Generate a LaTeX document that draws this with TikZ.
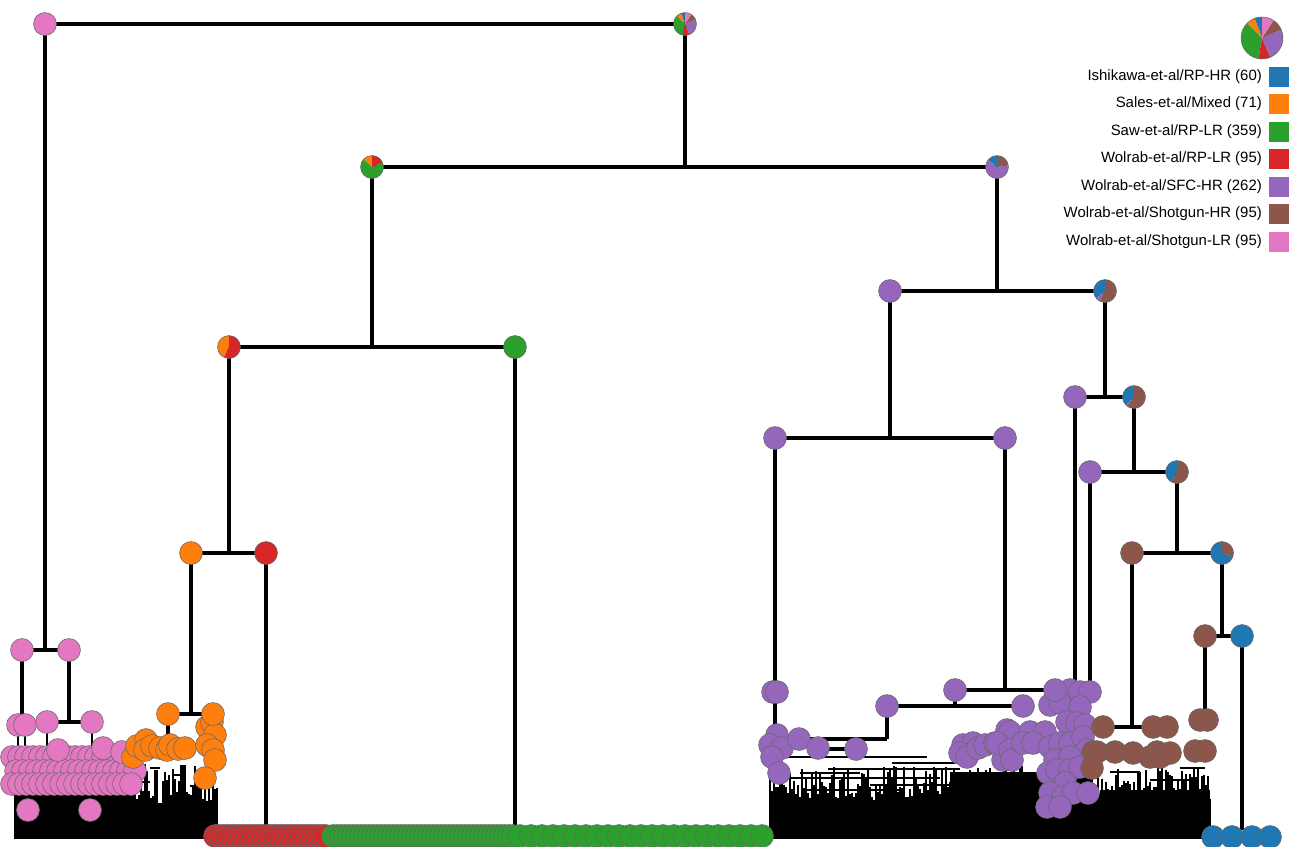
\documentclass[tikz,border=0pt]{standalone}
\usepackage{fontspec}
\setmainfont{Liberation Sans}
\usetikzlibrary{positioning}
\definecolor{tabblue}{HTML}{1F77B4}
\definecolor{taborange}{HTML}{FF7F0E}
\definecolor{tabgreen}{HTML}{2CA02C}
\definecolor{tabred}{HTML}{D62728}
\definecolor{tabpurple}{HTML}{9467BD}
\definecolor{tabbrown}{HTML}{8C564B}
\definecolor{tabpink}{HTML}{E377C2}
\pgfdeclarelayer{back}
\pgfsetlayers{back,main}
\newcommand{\pierad}{8.6pt}
% pie at a named coordinate: name, position, radius, total, colour/count list
\newcommand{\pienode}[5]{%
  \coordinate (#1) at (#2);
  \xdef\pieangle{90}%
  \foreach \c/\v in {#5}{%
    \pgfmathsetmacro{\pieend}{\pieangle+360*(\v/#4)}%
    \fill[\c] (#1) -- ++(\pieangle:#3) arc[start angle=\pieangle, end angle=\pieend, radius=#3] -- cycle;
    \global\let\pieangle\pieend
  }%
  \draw[black!60, line width=0.4pt] (#1) circle[radius=#3];
}

\begin{document}
\begin{tikzpicture}[x=0.75pt, y=-0.75pt,
    leaf/.style={circle, draw=black!60, line width=0.4pt, inner sep=0pt, minimum size=17.2pt},
    stem/.style={line width=2.6pt},
    twig/.style={line width=1.1pt},
    key/.style={inner sep=0pt, font=\fontsize{11.2pt}{13pt}\selectfont},
    swatch/.style={inner sep=0pt, minimum size=15pt}]
  \useasboundingbox (0,0) rectangle (1294,846);

  % dense lower parts of the tree
  \begin{pgfonlayer}{back}
    \pgfmathsetseed{42}
    \fill (15,788) rectangle (135,839);
    \fill (15,804) rectangle (218,839);
    \foreach \i in {0,...,101}{
      \pgfmathsetmacro{\xx}{15+2*\i}
      \pgfmathsetmacro{\yy}{804-40*rnd}
      \draw[twig] (\xx,839) -- (\xx,\yy);
    }
    \foreach \ya/\xa/\xb in {768/150/160, 775/172/186, 782/140/150, 786/190/200, 772/196/206}{
      \draw[twig] (\xa,\ya) -- (\xb,\ya);
    }
    \fill (770,800) rectangle (1210,839);
    \fill (950,772) rectangle (1090,810);
    \fill (1100,790) rectangle (1210,810);
    \foreach \i in {0,...,220}{
      \pgfmathsetmacro{\xx}{770+2*\i}
      \pgfmathsetmacro{\yy}{800-34*rnd}
      \draw[twig] (\xx,839) -- (\xx,\yy);
    }
    \foreach \ya/\xa/\xb in {757/783/927, 763/892/960, 769/828/960, 773/800/860,
                             778/790/940, 785/870/980, 790/805/900, 795/930/1000,
                             772/1110/1140, 780/1150/1190, 768/1180/1205}{
      \draw[twig] (\xa,\ya) -- (\xb,\ya);
    }
  \end{pgfonlayer}

  % leaves in the bottom row
  \foreach \x in {215,218,...,327}{
    \node[leaf, fill=tabred] (rd\x) at (\x,836) {};
  }
  \foreach \x in {333,337,...,513}{
    \node[leaf, fill=tabgreen] (gr\x) at (\x,836) {};
  }
  \foreach \x in {520,531,...,765}{
    \node[leaf, fill=tabgreen] (gr\x) at (\x,836) {};
  }
  \foreach \x in {1213,1232,1252,1270}{
    \node[leaf, fill=tabblue] (bl\x) at (\x,837) {};
  }

  % pink and orange clusters
  \foreach \x in {12,19,...,131}{
    \node[leaf, fill=tabpink] (pka\x) at (\x,757) {};
  }
  \foreach \x in {16,23,...,135}{
    \node[leaf, fill=tabpink] (pkb\x) at (\x,771) {};
  }
  \foreach \x in {12,19,...,131}{
    \node[leaf, fill=tabpink] (pkc\x) at (\x,784) {};
  }
  \foreach \x/\y in {28/810, 90/810, 58/750, 103/748, 122/752}{
    \node[leaf, fill=tabpink] (pkd\x) at (\x,\y) {};
  }
  \foreach \x/\y in {133/757, 137/746, 146/740, 145/750, 152/746, 160/748, 167/750, 170/745,
                     178/749, 185/748, 207/727, 212/722, 215/735, 207/745, 213/750, 215/760, 205/778}{
    \node[leaf, fill=taborange] (or\x-\y) at (\x,\y) {};
  }

  % purple and brown clusters
  \foreach \x/\y in {777/735, 770/745, 782/748, 772/757, 779/773, 799/739, 818/748, 856/749,
                     963/745, 973/743, 960/753, 967/757, 978/748, 985/745, 995/743, 1007/730,
                     1003/760, 1010/732, 997/743, 1010/750, 1012/760, 1030/732, 1045/732,
                     1023/743, 1033/743, 1070/690, 1080/692, 1090/692, 1050/705, 1060/703,
                     1080/707, 1067/722, 1077/723, 1085/725, 1050/747, 1060/743, 1070/743,
                     1083/737, 1087/750, 1055/760, 1070/757, 1048/773, 1057/770, 1070/770,
                     1080/767, 1065/783, 1050/793, 1063/797, 1073/793, 1088/793, 1047/807, 1060/807}{
    \node[leaf, fill=tabpurple] (pu\x-\y) at (\x,\y) {};
  }
  \foreach \x/\y in {1093/752, 1097/752, 1092/768, 1115/752, 1133/753, 1150/757, 1157/752,
                     1160/757, 1170/753, 1153/727, 1167/727, 1195/751, 1205/751}{
    \node[leaf, fill=tabbrown] (br\x-\y) at (\x,\y) {};
  }

  % tree nodes
  \node[leaf, fill=tabpink] (nP) at (45,24) {};
  \pienode{nA}{685,24}{\pierad}{1037}{tabblue/60, taborange/71, tabgreen/359, tabred/95, tabpurple/262, tabbrown/95, tabpink/95}
  \pienode{nB}{372,167}{\pierad}{525}{taborange/71, tabgreen/359, tabred/95}
  \pienode{nC}{997,167}{\pierad}{417}{tabblue/60, tabpurple/262, tabbrown/95}
  \pienode{nD}{229,347}{\pierad}{166}{taborange/71, tabred/95}
  \node[leaf, fill=tabgreen] (nE) at (515,347) {};
  \node[leaf, fill=taborange] (nF) at (191,553) {};
  \node[leaf, fill=tabred] (nG) at (266,553) {};
  \node[leaf, fill=tabpurple] (nH) at (890,291) {};
  \pienode{nI}{1105,291}{\pierad}{165}{tabblue/60, tabpurple/10, tabbrown/95}
  \node[leaf, fill=tabpurple] (nJ) at (775,438) {};
  \node[leaf, fill=tabpurple] (nK) at (1005,438) {};
  \node[leaf, fill=tabpurple] (nL) at (1075,397) {};
  \pienode{nM}{1134,397}{\pierad}{158}{tabblue/60, tabpurple/3, tabbrown/95}
  \node[leaf, fill=tabpurple] (nN) at (1090,472) {};
  \pienode{nO}{1177,472}{\pierad}{145}{tabblue/60, tabbrown/85}
  \node[leaf, fill=tabbrown] (nQ) at (1132,553) {};
  \pienode{nR}{1222,553}{\pierad}{87}{tabblue/60, tabbrown/27}
  \node[leaf, fill=tabbrown] (nS) at (1205,636) {};
  \node[leaf, fill=tabblue] (nT) at (1242,636) {};
  \node[leaf, fill=tabpink] (nU) at (22,650) {};
  \node[leaf, fill=tabpink] (nV) at (69,650) {};
  \node[leaf, fill=tabpink] (nU1) at (18,725) {};
  \node[leaf, fill=tabpink] (nU2) at (25,725) {};
  \node[leaf, fill=tabpink] (nV1) at (47,722) {};
  \node[leaf, fill=tabpink] (nV2) at (92,722) {};
  \node[leaf, fill=taborange] (nF1) at (168,714) {};
  \node[leaf, fill=taborange] (nF2) at (213,714) {};
  \node[leaf, fill=tabpurple] (nJ1) at (773,692) {};
  \node[leaf, fill=tabpurple] (nJ2) at (777,692) {};
  \node[leaf, fill=tabpurple] (nK1) at (955,690) {};
  \node[leaf, fill=tabpurple] (nK2) at (1055,690) {};
  \node[leaf, fill=tabpurple] (nK3) at (887,706) {};
  \node[leaf, fill=tabpurple] (nK4) at (1023,706) {};
  \node[leaf, fill=tabbrown] (nQ1) at (1103,727) {};
  \node[leaf, fill=tabbrown] (nS1) at (1200,720) {};
  \node[leaf, fill=tabbrown] (nS2) at (1207,720) {};
  \coordinate (gEnd) at (266,828);
  \coordinate (eEnd) at (515,828);
  \coordinate (jEnd) at (775,770);
  \coordinate (k3End) at (785,739);
  \coordinate (lEnd) at (1075,684);
  \coordinate (nEnd) at (1090,684);
  \coordinate (qEnd) at (1160,727);
  \coordinate (tEnd) at (1242,830);
  \coordinate (fEnd) at (168,735);

  % branches
  \begin{pgfonlayer}{back}
    \draw[stem] (nP.center) -- (nA);
    \draw[stem] (nA) -- (nA |- nB);
    \draw[stem] (nB) -- (nC);
    \draw[stem] (nB) -- (nB |- nD);
    \draw[stem] (nD) -- (nE.center);
    \draw[stem] (nD) -- (nD |- nF.center);
    \draw[stem] (nF.center) -- (nG.center);
    \draw[stem] (nG.center) -- (gEnd);
    \draw[stem] (nE.center) -- (eEnd);
    \draw[stem] (nF.center) -- (nF.center |- nF1.center);
    \draw[stem] (nF1.center) -- (nF2.center);
    \draw[stem] (nF1.center) -- (fEnd);
    \draw[stem] (nC) -- (nC |- nH.center);
    \draw[stem] (nH.center) -- (nI);
    \draw[stem] (nH.center) -- (nH.center |- nJ.center);
    \draw[stem] (nJ.center) -- (nK.center);
    \draw[stem] (nJ.center) -- (jEnd);
    \draw[stem] (nK.center) -- (nK.center |- nK1.center);
    \draw[stem] (nK1.center) -- (nK2.center);
    \draw[stem] (nK1.center) -- (nK1.center |- nK3.center);
    \draw[stem] (nK3.center) -- (nK4.center);
    \draw[stem] (nK3.center) -- (nK3.center |- k3End);
    \draw[stem] (nK3.center |- k3End) -- (k3End);
    \draw[stem] (818,749) -- (856,749);
    \draw[stem] (nI) -- (nI |- nL.center);
    \draw[stem] (nL.center) -- (nM);
    \draw[stem] (nL.center) -- (lEnd);
    \draw[stem] (nM) -- (nM |- nN.center);
    \draw[stem] (nN.center) -- (nO);
    \draw[stem] (nN.center) -- (nEnd);
    \draw[stem] (nO) -- (nO |- nQ.center);
    \draw[stem] (nQ.center) -- (nR);
    \draw[stem] (nQ.center) -- (nQ.center |- qEnd);
    \draw[stem] (nQ1.center) -- (qEnd);
    \draw[stem] (nR) -- (nR |- nS.center);
    \draw[stem] (nS.center) -- (nT.center);
    \draw[stem] (nS.center) -- (nS.center |- nS1.center);
    \draw[stem] (nS1.center) -- (nS2.center);
    \draw[stem] (nT.center) -- (tEnd);
    \draw[stem] (nP.center) -- (nP.center |- nU.center);
    \draw[stem] (nU.center) -- (nV.center);
    \draw[stem] (nU.center) -- (nU.center |- nU1.center);
    \draw[stem] (nU1.center) -- (nU2.center);
    \draw[stem] (nV.center) -- (nV.center |- nV1.center);
    \draw[stem] (nV1.center) -- (nV2.center);
    \draw[twig] (nU1.center) -- ++(0,30);
    \draw[twig] (nU2.center) -- ++(0,30);
    \draw[twig] (nV1.center) -- ++(0,30);
    \draw[twig] (nV2.center) -- ++(0,30);
  \end{pgfonlayer}

  % legend
  \pienode{keypie}{1262,38}{15.75pt}{1037}{tabblue/60, taborange/71, tabgreen/359, tabred/95, tabpurple/262, tabbrown/95, tabpink/95}
  \foreach \y/\c/\t in {77/tabblue/{Ishikawa-et-al/RP-HR (60)},
                        104/taborange/{Sales-et-al/Mixed (71)},
                        132/tabgreen/{Saw-et-al/RP-LR (359)},
                        159/tabred/{Wolrab-et-al/RP-LR (95)},
                        187/tabpurple/{Wolrab-et-al/SFC-HR (262)},
                        214/tabbrown/{Wolrab-et-al/Shotgun-HR (95)},
                        242/tabpink/{Wolrab-et-al/Shotgun-LR (95)}}{
    \node[swatch, fill=\c] (sw\y) at (1279,\y) {};
    \node[key, left=5pt of sw\y] (lb\y) {\t};
  }
\end{tikzpicture}
\end{document}
